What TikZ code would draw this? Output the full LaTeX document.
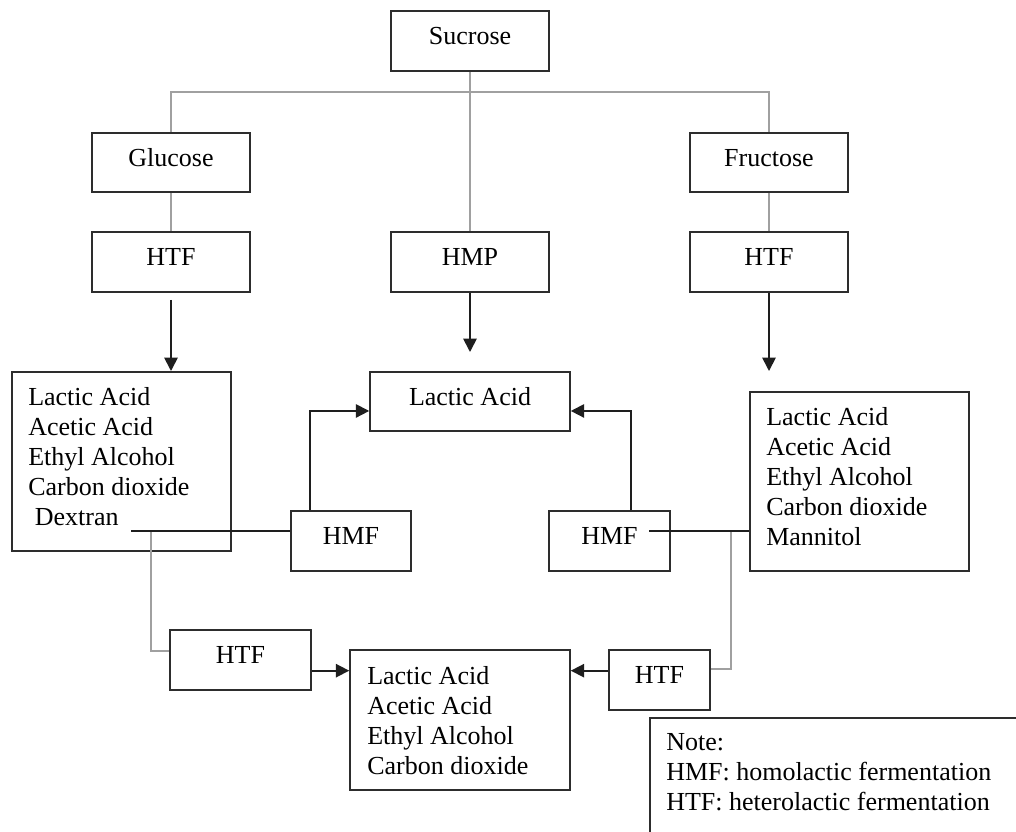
\documentclass[tikz,border=0pt]{standalone}
\usepackage{fontspec}
\setmainfont{Liberation Serif}
\usetikzlibrary{arrows.meta,fit}
\definecolor{boxc}{RGB}{45,45,45}
\definecolor{arrc}{RGB}{30,30,30}
\definecolor{grayc}{RGB}{160,160,160}
\begin{document}
\begin{tikzpicture}[x=0.75pt,y=-0.75pt,
  box/.style={draw=boxc,line width=1.2pt,inner sep=0pt,font=\fontsize{19.5}{22.5}\selectfont,text height=10pt,text depth=4.6pt},
  bigbox/.style={draw=boxc,line width=1.2pt,inner sep=0pt},
  txt/.style={inner sep=0pt,align=left,anchor=north west,font=\fontsize{19.5}{22.5}\selectfont},
  gline/.style={draw=grayc,line width=1.6pt},
  bline/.style={draw=arrc,line width=1.3pt},
  arr/.style={bline,-{Triangle[length=10pt,width=10pt]}}]
\useasboundingbox (0,0) rectangle (1016,831);
\clip (0,0) rectangle (1016,831);
\fill[white] (0,0) rectangle (1016,831);

% top boxes
\node[box,minimum width=118.5pt,minimum height=45pt] (sucrose) at (470,41) {Sucrose};
\node[box,minimum width=118.5pt,minimum height=44.25pt] (glucose) at (171,162.5) {Glucose};
\node[box,minimum width=118.5pt,minimum height=44.25pt] (fructose) at (769,162.5) {Fructose};
\node[box,minimum width=118.5pt,minimum height=45pt] (htfa) at (171,262) {HTF};
\node[box,minimum width=118.5pt,minimum height=45pt] (hmp) at (470,262) {HMP};
\node[box,minimum width=118.5pt,minimum height=45pt] (htfb) at (769,262) {HTF};

% middle
\node[box,minimum width=150pt,minimum height=44.25pt] (lactic) at (470,401.5) {Lactic Acid};
\node[bigbox,fit={(12,372) (231,551)}] (lprod) {};
\node[txt] (ltext) at (28,387) {Lactic Acid\\Acetic Acid\\Ethyl Alcohol\\Carbon dioxide\\\hspace*{5pt}Dextran};
\node[bigbox,fit={(750,392) (969,571)}] (rprod) {};
\node[txt] (rtext) at (766,407) {Lactic Acid\\Acetic Acid\\Ethyl Alcohol\\Carbon dioxide\\Mannitol};
\node[box,minimum width=90pt,minimum height=45pt] (hmfl) at (351,541) {HMF};
\node[box,minimum width=90.75pt,minimum height=45pt] (hmfr) at (609.5,541) {HMF};

% bottom
\node[box,minimum width=105.75pt,minimum height=45pt] (htfc) at (240.5,660) {HTF};
\node[box,minimum width=75.75pt,minimum height=45pt] (htfd) at (659.5,680) {HTF};
\node[bigbox,fit={(350,650) (570,790)}] (bot) {};
\node[txt] (btext) at (367,666) {Lactic Acid\\Acetic Acid\\Ethyl Alcohol\\Carbon dioxide};

% note
\node[bigbox,fit={(650,718) (1060,880)}] (note) {};
\node[txt] (ntext) at (666,733) {Note:\\HMF: homolactic fermentation\\HTF: heterolactic fermentation};

% gray connectors
\draw[gline] (sucrose.south) -- (hmp.north);
\draw[gline] (glucose.north) -- ++(0,-40) -| (fructose.north);
\draw[gline] (glucose.south) -- (htfa.north);
\draw[gline] (fructose.south) -- (htfb.north);
\coordinate (gl) at (151,531);
\coordinate (gr) at (731,531);
\draw[gline] (gl) |- ([yshift=6.75pt]htfc.west);
\draw[gline] (gr) |- ([yshift=8.25pt]htfd.east);

% black connectors
\coordinate (ea) at (171,371);
\coordinate (eb) at (470,352);
\coordinate (ec) at (769,371);
\draw[arr,shorten <=5.25pt] (htfa.south) -- (ea);
\draw[arr] (hmp.south) -- (eb);
\draw[arr] (htfb.south) -- (ec);
\draw[arr] ([xshift=15pt]hmfl.north west) |- ([yshift=-7.1pt]lactic.west);
\draw[arr] ([xshift=-30pt]hmfr.north east) |- ([yshift=-7.1pt]lactic.east);
\coordinate (dx) at (131,531);
\coordinate (mx) at (649,531);
\draw[bline] (dx) -- (dx -| hmfl.west);
\draw[bline] (mx) -- (mx -| rprod.west);
\draw[arr] ([yshift=-8pt]htfc.east) -- ([yshift=-8pt]htfc.east -| bot.west);
\draw[arr] ([yshift=7pt]htfd.west) -- ([yshift=7pt]htfd.west -| bot.east);
\end{tikzpicture}
\end{document}
